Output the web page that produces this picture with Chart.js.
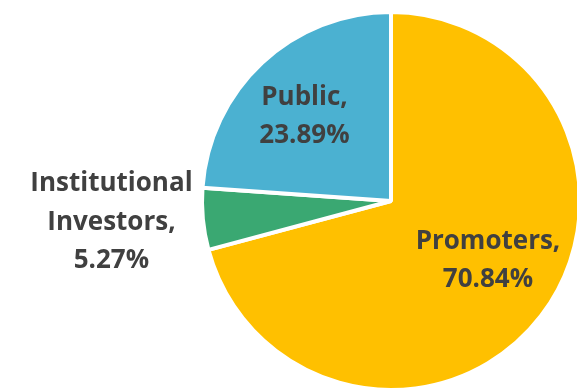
<!DOCTYPE html>
<html>
<head>
<meta charset="utf-8">
<script src="https://cdn.jsdelivr.net/npm/chart.js@4"></script>
<style>
  html, body { margin: 0; padding: 0; background: #fff; overflow: hidden; }
  #wrap { position: absolute; left: 0; top: 0; width: 782px; height: 402px; }
</style>
</head>
<body>
<div id="wrap"><canvas id="shareChart"></canvas></div>
<script>
// shareholding pattern
var categories = ['Promoters', 'Institutional Investors', 'Public'];
var shares = [70.84, 5.27, 23.89];
var labelLines = [
    ['Promoters,', '70.84%'],
    ['Institutional', 'Investors,', '5.27%'],
    ['Public,', '23.89%']
];
var sliceColors = ['#FFC000', '#3AA872', '#4BB1D1'];

// label placement: fraction of radius along the slice middle, plus a small nudge
var labelRadius = [0.62, 1.47, 0.64];
var labelNudgeX = [4, -3, -4];
var labelNudgeY = [-12, -5, 4];

var labelPlugin = {
    id: 'sliceLabels',
    afterDatasetsDraw: function (chart) {
        var c = chart.ctx;
        var meta = chart.getDatasetMeta(0);
        c.save();
        c.font = 'bold 26px "Open Sans"';
        c.fillStyle = '#404040';
        c.textAlign = 'center';
        c.textBaseline = 'middle';
        meta.data.forEach(function (arc, i) {
            var mid = (arc.startAngle + arc.endAngle) / 2;
            var r = arc.outerRadius * labelRadius[i];
            var x = arc.x + Math.cos(mid) * r + labelNudgeX[i];
            var y = arc.y + Math.sin(mid) * r + labelNudgeY[i];
            var lines = labelLines[i];
            var lh = 38.5;
            var top = y - (lines.length - 1) * lh / 2;
            lines.forEach(function (t, j) {
                c.fillText(t, x, top + j * lh);
            });
        });
        c.restore();
    }
};

var ctx = document.getElementById('shareChart').getContext('2d');
var chart = new Chart(ctx, {
    type: 'pie',
    data: {
        labels: categories,
        datasets: [{
            data: shares,
            backgroundColor: sliceColors,
            borderColor: '#ffffff',
            borderWidth: 4
        }]
    },
    options: {
        responsive: true,
        maintainAspectRatio: false,
        animation: false,
        layout: { padding: { left: 200, right: 200, top: 10, bottom: 10 } },
        plugins: {
            legend: { display: false },
            tooltip: { enabled: false }
        }
    },
    plugins: [labelPlugin]
});
</script>
</body>
</html>
